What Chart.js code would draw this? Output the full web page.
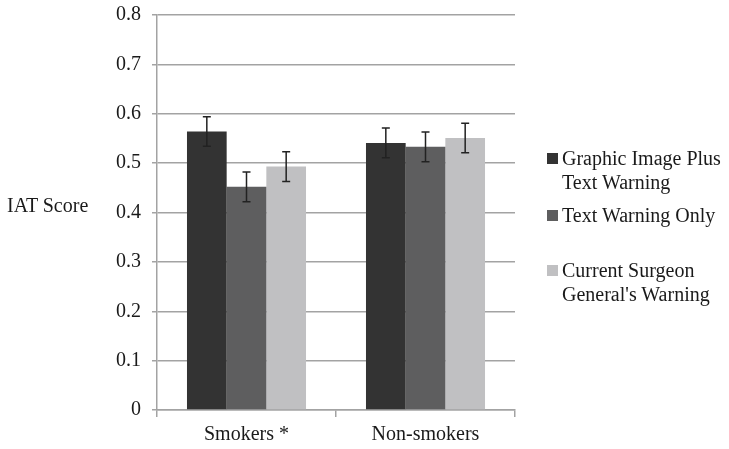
<!DOCTYPE html>
<html>
<head>
<meta charset="utf-8">
<script src="https://cdn.jsdelivr.net/npm/chart.js@4.4.1/dist/chart.umd.min.js"></script>
<style>
  body { margin: 0; background: #fff; }
  #wrap { position: relative; width: 729px; height: 449px; font-family: "Liberation Serif", "Times New Roman", serif; color: #1a1a1a; }
  #ytitle { position: absolute; left: 7px; top: 193px; font-size: 20px; line-height: 24px; }
  .leg { position: absolute; left: 547px; font-size: 20px; line-height: 24px; }
  .leg .sw { position: absolute; left: 0; top: 7px; width: 11px; height: 11px; }
  .leg .tx { margin-left: 15px; }
</style>
</head>
<body>
<div id="wrap">
  <canvas id="chart"></canvas>
  <div id="ytitle">IAT Score</div>
  <div id="legend"></div>
</div>
<script>
const categories = ['Smokers *', 'Non-smokers'];
const seriesLabels = [
    ['Graphic Image Plus', 'Text Warning'],
    ['Text Warning Only'],
    ['Current Surgeon', "General's Warning"]
];
const graphicText = [0.564, 0.541];
const textOnly = [0.452, 0.533];
const surgeonGeneral = [0.493, 0.551];
const graphicTextErr = [0.03, 0.03];
const textOnlyErr = [0.03, 0.03];
const surgeonGeneralErr = [0.03, 0.03];
const colors = ['#333333', '#5e5e5f', '#c0c0c2'];

const errorBars = {
    id: 'errorBars',
    afterDatasetsDraw(chart) {
        const ctx = chart.ctx;
        const y = chart.scales.y;
        ctx.save();
        ctx.strokeStyle = '#222';
        ctx.lineWidth = 1.5;
        chart.data.datasets.forEach((ds, i) => {
            chart.getDatasetMeta(i).data.forEach((bar, j) => {
                const v = ds.data[j], e = ds.errors[j];
                const top = y.getPixelForValue(v + e);
                const bot = y.getPixelForValue(v - e);
                ctx.beginPath();
                ctx.moveTo(bar.x, top); ctx.lineTo(bar.x, bot);
                ctx.moveTo(bar.x - 4, top); ctx.lineTo(bar.x + 4, top);
                ctx.moveTo(bar.x - 4, bot); ctx.lineTo(bar.x + 4, bot);
                ctx.stroke();
            });
        });
        ctx.restore();
    }
};

const font = { family: '"Liberation Serif", "Times New Roman", serif', size: 20 };
const gray = '#a3a3a3';

const chart = new Chart(document.getElementById('chart'), {
    type: 'bar',
    data: {
        labels: categories,
        datasets: [
            { label: seriesLabels[0].join(' '), data: graphicText, errors: graphicTextErr, backgroundColor: colors[0] },
            { label: seriesLabels[1].join(' '), data: textOnly, errors: textOnlyErr, backgroundColor: colors[1] },
            { label: seriesLabels[2].join(' '), data: surgeonGeneral, errors: surgeonGeneralErr, backgroundColor: colors[2] }
        ]
    },
    options: {
        responsive: true,
        maintainAspectRatio: false,
        animation: false,
        layout: { padding: { top: 15, right: 214, left: 0, bottom: 0 } },
        datasets: { bar: { categoryPercentage: 0.665, barPercentage: 1.0 } },
        plugins: { legend: { display: false }, tooltip: { enabled: false } },
        scales: {
            x: {
                grid: { display: true, drawOnChartArea: false, offset: true, color: gray, lineWidth: 1.5, tickLength: 7 },
                border: { display: true, color: gray, width: 1.5 },
                ticks: { font: font, color: '#1a1a1a', padding: 6 },
                afterFit(scale) { scale.height = 39; }
            },
            y: {
                min: 0,
                max: 0.8,
                ticks: { stepSize: 0.1, font: font, color: '#1a1a1a', padding: 11 },
                grid: { color: gray, lineWidth: 1.5, tickLength: 5 },
                border: { display: true, color: gray, width: 1.5 },
                afterFit(scale) {
                    scale.width = 157;
                    scale.paddingTop = 0;
                    scale.paddingBottom = 0;
                }
            }
        }
    },
    plugins: [errorBars]
});

// legend built from the series labels
const legendTops = [146, 203, 258];
const legend = document.getElementById('legend');
seriesLabels.forEach((lines, i) => {
    const item = document.createElement('div');
    item.className = 'leg';
    item.style.top = legendTops[i] + 'px';
    const sw = document.createElement('div');
    sw.className = 'sw';
    sw.style.background = colors[i];
    const tx = document.createElement('div');
    tx.className = 'tx';
    tx.innerHTML = lines.join('<br>');
    item.appendChild(sw);
    item.appendChild(tx);
    legend.appendChild(item);
});
</script>
</body>
</html>
